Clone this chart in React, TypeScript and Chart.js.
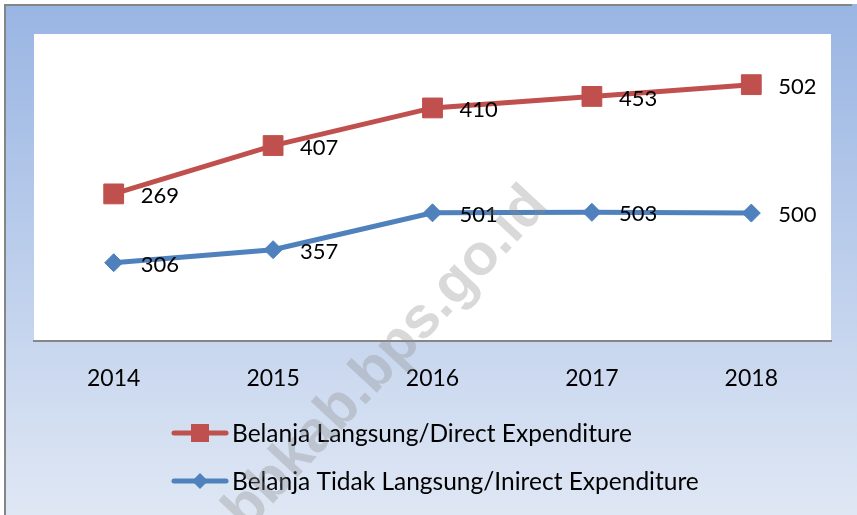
import React, { useEffect, useRef } from 'react';
import { Chart, registerables } from 'chart.js';

Chart.register(...registerables);

const categories = ['2014', '2015', '2016', '2017', '2018'];
const directValues = [269, 407, 410, 453, 502];
const indirectValues = [306, 357, 501, 503, 500];
const directLabel = 'Belanja Langsung/Direct Expenditure';
const indirectLabel = 'Belanja Tidak Langsung/Inirect Expenditure';
const yMax = 1200;
const watermarkText = 'bbkab.bps.go.id';

const RED = '#C0504D';
const BLUE = '#4F81BD';
const FONT = 'Lato, Carlito, Calibri, sans-serif';
const W = 857;
const H = 515;

const bgPlugin = {
  id: 'bg',
  beforeDraw(chart: any) {
    const { ctx, chartArea } = chart;
    ctx.save();
    ctx.fillStyle = '#ffffff';
    ctx.fillRect(0, 0, W, H);
    const g = ctx.createLinearGradient(0, 4, 0, H);
    g.addColorStop(0, '#99B5E3');
    g.addColorStop(1, '#DFE7F4');
    ctx.fillStyle = g;
    ctx.fillRect(4, 4, W - 4, H - 4);
    ctx.strokeStyle = '#858585';
    ctx.lineWidth = 2;
    ctx.beginPath();
    ctx.moveTo(4, 5);
    ctx.lineTo(852, 5);
    ctx.moveTo(5, 4);
    ctx.lineTo(5, H);
    ctx.stroke();
    ctx.fillStyle = '#ffffff';
    ctx.fillRect(chartArea.left, chartArea.top, chartArea.right - chartArea.left, chartArea.bottom - chartArea.top);
    ctx.restore();
  },
};

const labelPlugin = {
  id: 'dlabels',
  afterDatasetsDraw(chart: any) {
    const { ctx } = chart;
    ctx.save();
    ctx.font = `22px ${FONT}`;
    ctx.fillStyle = '#000';
    ctx.textAlign = 'left';
    ctx.textBaseline = 'middle';
    chart.data.datasets.forEach((ds: any, i: number) => {
      const meta = chart.getDatasetMeta(i);
      meta.data.forEach((pt: any, j: number) => {
        ctx.fillText(String(ds.data[j]), pt.x + 27, pt.y + 2);
      });
    });
    ctx.restore();
  },
};

function drawMarker(ctx: CanvasRenderingContext2D, style: string, x: number, y: number, r: number, color: string) {
  ctx.fillStyle = color;
  ctx.beginPath();
  if (style === 'rect') {
    ctx.rect(x - r, y - r, 2 * r, 2 * r);
  } else {
    ctx.moveTo(x - r, y);
    ctx.lineTo(x, y - r);
    ctx.lineTo(x + r, y);
    ctx.lineTo(x, y + r);
    ctx.closePath();
  }
  ctx.fill();
}

const legendPlugin = {
  id: 'customLegend',
  afterDraw(chart: any) {
    const { ctx } = chart;
    const items = [
      { text: directLabel, color: RED, style: 'rect', r: 9, y: 433 },
      { text: indirectLabel, color: BLUE, style: 'diamond', r: 8, y: 481 },
    ];
    ctx.save();
    items.forEach((it) => {
      ctx.strokeStyle = it.color;
      ctx.lineWidth = 5;
      ctx.lineCap = 'round';
      ctx.beginPath();
      ctx.moveTo(174, it.y);
      ctx.lineTo(226, it.y);
      ctx.stroke();
      drawMarker(ctx, it.style, 200, it.y, it.r, it.color);
      ctx.fillStyle = '#000';
      ctx.font = `24.5px ${FONT}`;
      ctx.textAlign = 'left';
      ctx.textBaseline = 'middle';
      ctx.fillText(it.text, 232, it.y + 1);
    });
    // watermark
    ctx.translate(538, 196);
    ctx.rotate((-47 * Math.PI) / 180);
    ctx.font = `bold 58px "Liberation Sans", Arial, sans-serif`;
    ctx.fillStyle = 'rgba(140,140,140,0.33)';
    ctx.textAlign = 'right';
    ctx.textBaseline = 'middle';
    ctx.fillText(watermarkText, 0, 0);
    ctx.restore();
  },
};

export default function App() {
  const ref = useRef<HTMLCanvasElement>(null);
  useEffect(() => {
    const chart = new Chart(ref.current!, {
      type: 'line',
      data: {
        labels: categories,
        datasets: [
          {
            label: indirectLabel,
            data: indirectValues,
            borderColor: BLUE,
            backgroundColor: BLUE,
            borderWidth: 5,
            pointStyle: 'rectRot',
            pointRadius: 9,
            pointBorderWidth: 1,
            pointBackgroundColor: BLUE,
            pointBorderColor: BLUE,
            fill: false,
            tension: 0,
          },
          {
            label: directLabel,
            data: directValues,
            borderColor: RED,
            backgroundColor: RED,
            borderWidth: 5,
            pointStyle: 'rect',
            pointRadius: 14,
            pointBorderWidth: 1,
            pointBackgroundColor: RED,
            pointBorderColor: RED,
            fill: false,
            tension: 0,
          },
        ],
      },
      options: {
        responsive: false,
        animation: false,
        devicePixelRatio: 1,
        layout: { padding: { left: 34, right: 26, top: 34, bottom: 0 } },
        plugins: { legend: { display: false }, tooltip: { enabled: false } },
        scales: {
          x: {
            offset: true,
            grid: { display: false, drawTicks: false },
            border: { display: true, color: '#868686', width: 2 },
            ticks: { color: '#000', font: { family: FONT, size: 23 }, padding: 24 },
            afterFit: (scale: any) => {
              scale.height = 174;
            },
          },
          y: {
            display: false,
            stacked: true,
            min: 0,
            max: yMax,
          },
        },
      },
      plugins: [bgPlugin, labelPlugin, legendPlugin],
    } as any);
    return () => chart.destroy();
  }, []);
  return (
    <div style={{ position: 'fixed', left: 0, top: 0, width: W, height: H }}>
      <canvas ref={ref} width={W} height={H} style={{ width: W, height: H, display: 'block' }} />
    </div>
  );
}
